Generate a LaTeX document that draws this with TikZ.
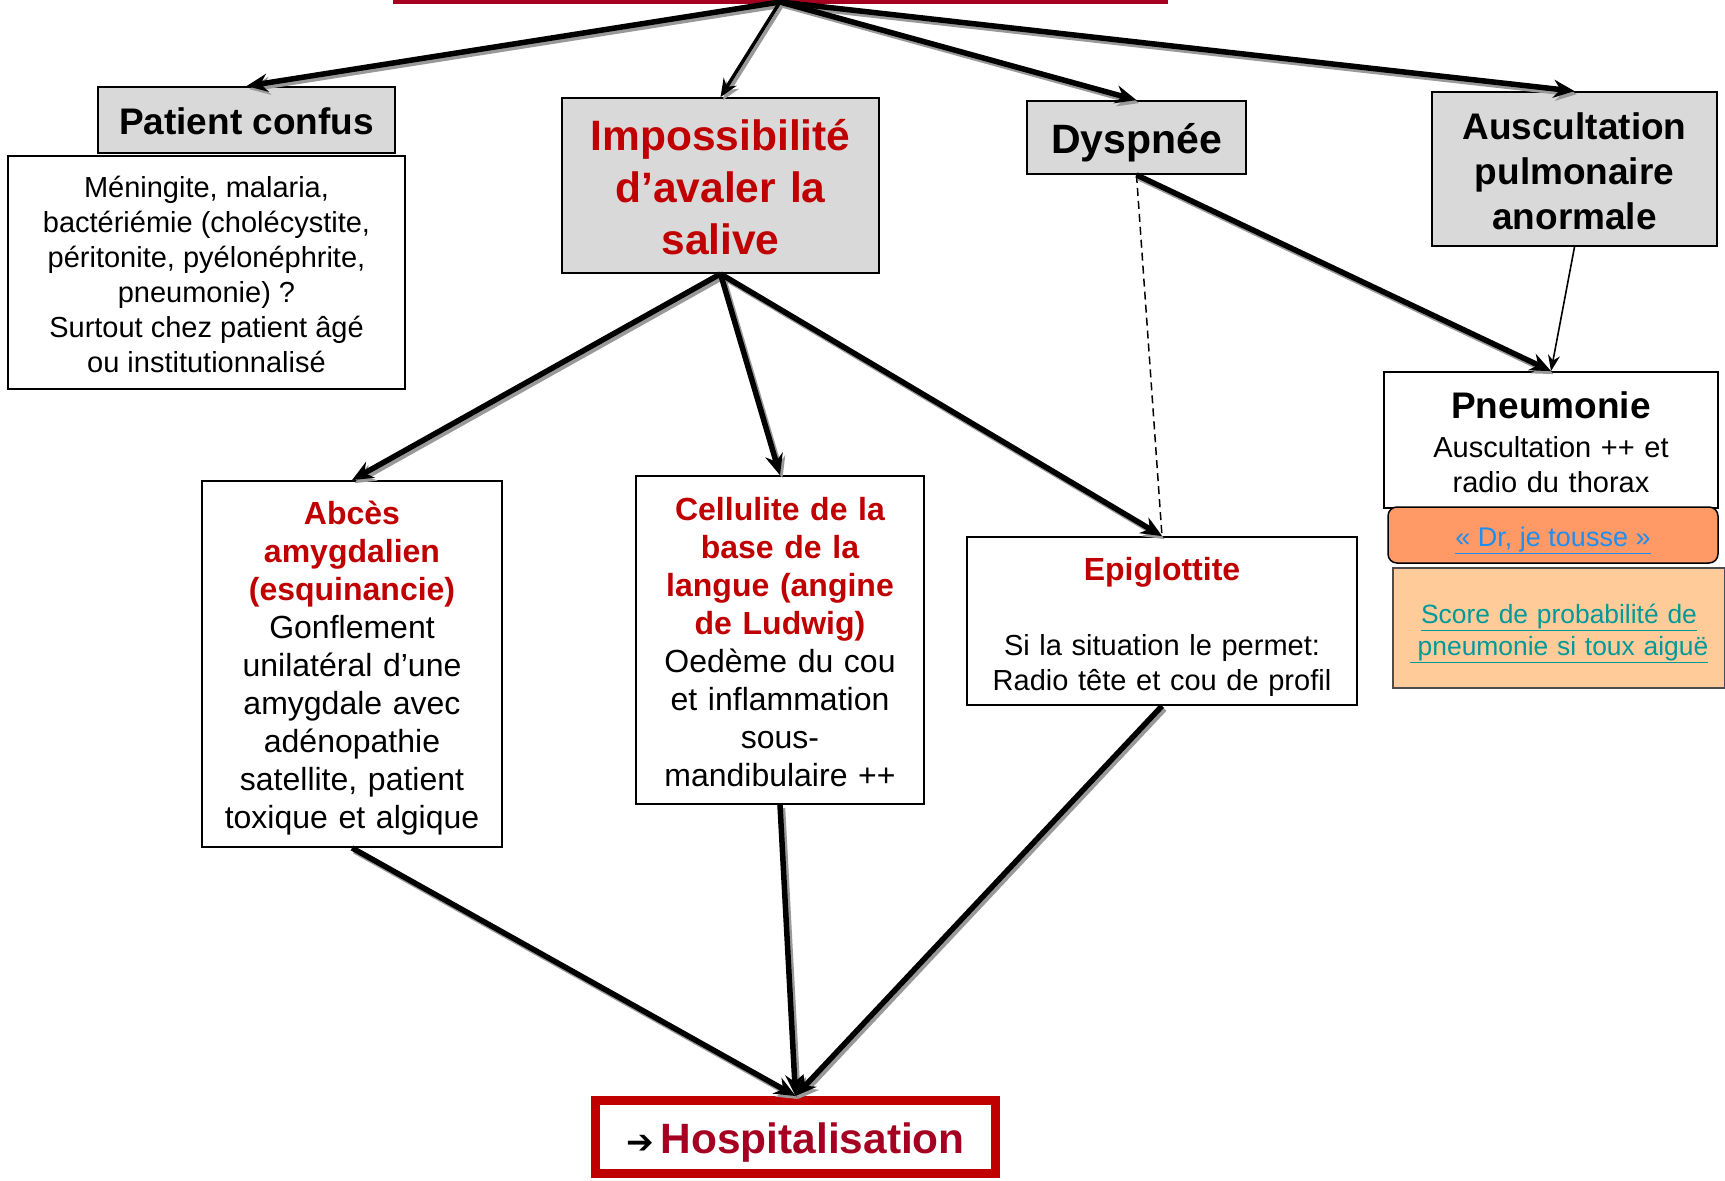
\documentclass[tikz,border=0pt]{standalone}
\usepackage{fontspec}
\setmainfont{Liberation Sans}
\newfontfamily\symfont{DejaVu Sans}
\usetikzlibrary{arrows.meta}
\definecolor{boxgray}{HTML}{D9D9D9}
\definecolor{darkred}{HTML}{C00000}
\definecolor{crimson}{HTML}{A50021}
\definecolor{drorange}{HTML}{FF9966}
\definecolor{scoreorange}{HTML}{FFCC99}
\definecolor{linkblue}{HTML}{1E8EF0}
\definecolor{linkteal}{HTML}{009999}
\definecolor{shadowgray}{HTML}{999999}
\begin{document}
\begin{tikzpicture}[x=1pt,y=-1pt,
  box/.style={draw=black, line width=1.8pt, inner sep=0pt, anchor=center},
  graybox/.style={box, fill=boxgray},
  txt/.style={inner sep=0pt, align=center, anchor=center},
  arr/.style={line width=5.5pt, -{Stealth[length=21pt,width=18pt]}},
  midarr/.style={line width=3.5pt, -{Stealth[length=18pt,width=15pt]}},
  thinarr/.style={line width=1.6pt, -{Stealth[length=16pt,width=12pt]}},
  dasharr/.style={line width=1.5pt, dash pattern=on 8pt off 5pt},
  f29/.style={font=\fontsize{29}{35}\selectfont},
  f32/.style={font=\fontsize{32}{38}\selectfont}]
\useasboundingbox (0,0) rectangle (1725,1181);
\fill[white] (0,0) rectangle (1725,1181);

% top cut-off box edge
\draw[crimson, line width=5pt] (393,1) -- (1168,1);
\coordinate (root) at (780,2);

% boxes
\node[graybox, minimum width=297pt, minimum height=66pt] (pc) at (246.5,120) {};
\node[box, minimum width=397pt, minimum height=233pt] (men) at (206.5,272.5) {};
\node[graybox, minimum width=317pt, minimum height=175pt] (imp) at (720.5,185.5) {};
\node[graybox, minimum width=219pt, minimum height=73pt] (dys) at (1136.5,137.5) {};
\node[graybox, minimum width=285pt, minimum height=154pt] (aus) at (1574.5,169) {};
\node[box, minimum width=334pt, minimum height=136pt] (pneu) at (1551,440) {};
\node[box, line width=1.5pt, rounded corners=9pt, fill=drorange, minimum width=330pt, minimum height=56pt] (dr) at (1553,535) {};
\node[box, draw=black!70, line width=1.5pt, fill=scoreorange, minimum width=332pt, minimum height=120pt] (score) at (1559,628) {};
\node[box, minimum width=300pt, minimum height=366pt] (abc) at (352,664) {};
\node[box, minimum width=288pt, minimum height=328pt] (cel) at (780,640) {};
\node[box, minimum width=390pt, minimum height=168pt] (epi) at (1162,621) {};
\node[box, draw=darkred, line width=9pt, minimum width=400pt, minimum height=73pt] (hosp) at (795.5,1137) {};

% texts
\node[txt, font=\fontsize{37}{42}\selectfont\bfseries] (pc-t) at ([yshift=-1pt]pc.center) {Patient confus};
\node[txt, f29] (men-t) at ([yshift=-2.2pt]men.center)
  {Méningite, malaria,\\ bactériémie (cholécystite,\\ péritonite, pyélonéphrite,\\ pneumonie) ?\\ Surtout chez patient âgé\\ ou institutionnalisé};
\node[txt, text width=305pt, font=\fontsize{42.5}{52}\selectfont\bfseries, text=darkred] (imp-t) at ([yshift=-1.2pt]imp.center)
  {Impossibilité\\ d’avaler la\\ salive};
\node[txt, font=\fontsize{41}{46}\selectfont\bfseries] (dys-t) at ([yshift=-5.5pt]dys.center) {Dyspnée};
\node[txt, text width=275pt, font=\fontsize{37}{44.6}\selectfont\bfseries] (aus-t) at ([yshift=-2.2pt]aus.center)
  {Auscultation\\ pulmonaire\\ anormale};
\node[txt, text width=320pt, f29] (pneu-t) at ([yshift=-2pt]pneu.center)
  {{\fontsize{37}{42}\selectfont\bfseries Pneumonie\par}\vspace{4pt}Auscultation ++ et\\ radio du thorax};
\node[txt, font=\fontsize{27}{32}\selectfont, text=linkblue] (dr-t) at ([yshift=-5.5pt]dr.center)
  {\underline{« Dr, je tousse »}};
\node[txt, text width=320pt, font=\fontsize{26.4}{32}\selectfont, text=linkteal] (score-t) at ([yshift=-5.5pt]score.center)
  {\underline{Score de probabilité de}\\ \underline{\hspace{8pt}pneumonie si toux aiguë}};
\node[txt, text width=290pt, f32] (abc-t) at ([yshift=-4.4pt]abc.center)
  {{\bfseries\color{darkred}Abcès\\ amygdalien\\ (esquinancie)}\\ Gonflement\\ unilatéral d’une\\ amygdale avec\\ adénopathie\\ satellite, patient\\ toxique et algique};
\node[txt, text width=280pt, f32] (cel-t) at ([yshift=-2.2pt]cel.center)
  {{\bfseries\color{darkred}Cellulite de la\\ base de la\\ langue (angine\\ de Ludwig)}\\ Oedème du cou\\ et inflammation\\ sous-\\ mandibulaire ++};
\node[txt, text width=380pt, f29] (epi-t) at ([yshift=-5.5pt]epi.center)
  {{\fontsize{32}{38}\selectfont\bfseries\color{darkred}Epiglottite\par}\vspace{40pt}Si la situation le permet:\\ Radio tête et cou de profil};
\node[txt, font=\fontsize{42.4}{48}\selectfont\bfseries, text=crimson] (hosp-t) at ([yshift=-5.5pt]hosp.center)
  {{\symfont\fontsize{33}{33}\selectfont\bfseries\color{black}➔}\hspace{7pt}Hospitalisation};

% connector shadows
\begin{scope}[transform canvas={shift={(2.5pt,-3pt)}}, draw=shadowgray, color=shadowgray]
\draw[arr] (root) -- (pc.north);
\draw[midarr] (root) -- (imp.north);
\draw[arr] (root) -- (dys.north);
\draw[arr] (root) -- (aus.north);
\draw[arr] (imp.south) -- (abc.north);
\draw[arr] (imp.south) -- (cel.north);
\draw[arr] (imp.south) -- (epi.north);
\draw[arr] (dys.south) -- (pneu.north);
\draw[arr] (abc.south) -- (hosp.north);
\draw[arr] (cel.south) -- (hosp.north);
\draw[arr] (epi.south) -- (hosp.north);
\end{scope}

% connectors
\draw[arr] (root) -- (pc.north);
\draw[midarr] (root) -- (imp.north);
\draw[arr] (root) -- (dys.north);
\draw[arr] (root) -- (aus.north);
\draw[arr] (imp.south) -- (abc.north);
\draw[arr] (imp.south) -- (cel.north);
\draw[arr] (imp.south) -- (epi.north);
\draw[dasharr] (dys.south) -- (epi.north);
\draw[arr] (dys.south) -- (pneu.north);
\draw[thinarr] (aus.south) -- (pneu.north);
\draw[arr] (abc.south) -- (hosp.north);
\draw[arr] (cel.south) -- (hosp.north);
\draw[arr] (epi.south) -- (hosp.north);
\end{tikzpicture}
\end{document}
